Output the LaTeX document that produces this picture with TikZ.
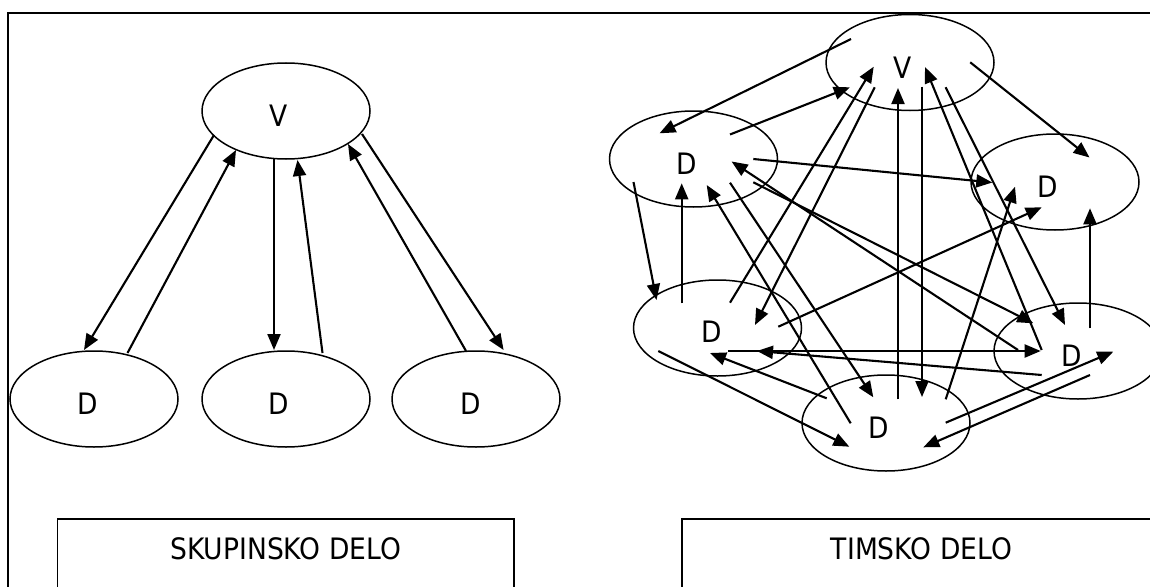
\documentclass[tikz,border=0pt]{standalone}
\usepackage{fontspec}
\setmainfont{DejaVu Sans}[FakeStretch=0.9]
\usetikzlibrary{arrows.meta,shapes.geometric,calc}
\newcommand\lnk[4]{\draw[arr] ($(#1)+(#2)$) -- ($(#3)+(#4)$);}
\begin{document}
\begin{tikzpicture}[x=1pt,y=-1pt,
  ell/.style={ellipse, draw, line width=1.5pt, minimum width=168pt, minimum height=96pt, inner sep=0pt},
  lbl/.style={font=\fontsize{29.5}{31}\selectfont, inner sep=0pt},
  arr/.style={line width=2.1pt, -{Triangle[length=16pt,width=13pt]}},
  frameline/.style={line width=1.8pt},
  boxline/.style={line width=1.7pt}]
\useasboundingbox (0,0) rectangle (1150,586);
\clip (0,0) rectangle (1150,586);
\fill[white] (0,0) rectangle (1150,586);
% outer frame
\draw[frameline] (1170,13) -- (8,13) -- (8,610);
% ---------- left diagram ----------
\node[ell, label={[lbl,xshift=-7pt,yshift=-5pt]center:V}] (lV) at (286,111) {};
\node[ell, label={[lbl,xshift=-6pt,yshift=-5pt]center:D}] (lD1) at (94,399) {};
\node[ell, label={[lbl,xshift=-7pt,yshift=-5pt]center:D}] (lD2) at (286,399) {};
\node[ell, label={[lbl,xshift=-5pt,yshift=-5pt]center:D}] (lD3) at (476,399) {};
\lnk{lV}{-72,24}{lD1}{-10,-49}
\lnk{lD1}{33.5,-46}{lV}{-50,39}
\lnk{lV}{-12,48}{lD2}{-12,-49}
\lnk{lD2}{36.5,-46}{lV}{11.5,49}
\lnk{lD3}{-10,-48}{lV}{62,33}
\lnk{lV}{76,23}{lD3}{27.6,-49}
% ---------- right diagram ----------
\node[ell, label={[lbl,xshift=-7pt,yshift=-5pt]center:V}] (rV) at (910,62.5) {};
\node[ell, label={[lbl,xshift=-7pt,yshift=-5pt]center:D}] (rDL) at (693.5,159) {};
\node[ell, label={[lbl,xshift=-7pt,yshift=-5pt]center:D}] (rDR) at (1055,182) {};
\node[ell, label={[lbl,xshift=-6pt,yshift=-4pt]center:D}] (rDL2) at (717.5,328) {};
\node[ell, label={[lbl,xshift=-6pt,yshift=-5pt]center:D}] (rDR2) at (1078,351) {};
\node[ell, label={[lbl,xshift=-7pt,yshift=-5pt]center:D}] (rDB) at (886,423) {};
\lnk{rV}{-59,-23.5}{rDL}{-34,-25.7}
\lnk{rDL}{36.5,-24.5}{rV}{-60.2,24.8}
\lnk{rV}{60.2,-0.2}{rDR}{34.5,-24.5}
\lnk{rDL}{59.8,0}{rDR}{-62.7,0.5}
\lnk{rDR2}{-60,-1}{rDL}{38.1,2.5}
\lnk{rDL}{59.8,23.3}{rDR2}{-44.7,-27.7}
\lnk{rDR2}{-36.3,-1}{rV}{15,4.5}
\lnk{rV}{35.6,24.8}{rDR2}{-13,-26}
\lnk{rDL2}{10.8,23}{rDR2}{-37.3,0}
\lnk{rDR2}{-36.3,24}{rDL2}{39.5,23}
\lnk{rDB}{-59.3,-24.7}{rDL2}{-7.5,25}
\lnk{rDL2}{-59.2,23}{rDB}{-36.7,23.7}
\lnk{rDB}{-35.3,0.3}{rDL}{13.2,26}
\lnk{rDL}{36.5,23.7}{rDB}{-12.7,-25.7}
\lnk{rDB}{12,-23.7}{rV}{-12,25.5}
\lnk{rV}{12,24.2}{rDB}{36,-26}
\lnk{rDB}{59.7,-23.7}{rDR}{-40,4.7}
\lnk{rDB}{59.7,-0.3}{rDR2}{35.3,0.7}
\lnk{rDR2}{12,24}{rDB}{37.3,24.3}
\lnk{rDL}{-60,23}{rDL2}{-61,-28}
\lnk{rDL2}{-35.8,-24.7}{rDL}{-11.8,24.3}
\lnk{rDL2}{12.5,-25.3}{rV}{-36.3,4.2}
\lnk{rV}{-35.3,24.8}{rDL2}{37.5,-3}
\lnk{rDL2}{60.8,-1.3}{rDR}{-13.3,25.3}
\lnk{rDR2}{12,-22.7}{rDR}{35,26.3}
% ---------- bottom boxes ----------
\draw[boxline] (57.4,620) -- (57.4,519) -- (514,519) -- (514,620);
\node[lbl] (tSkup) at (285.7,549) {SKUPINSKO DELO};
\draw[boxline] (682,620) -- (682,519) -- (1170,519);
\node[lbl] (tTim) at (921.5,549) {TIMSKO DELO};
\end{tikzpicture}
\end{document}
